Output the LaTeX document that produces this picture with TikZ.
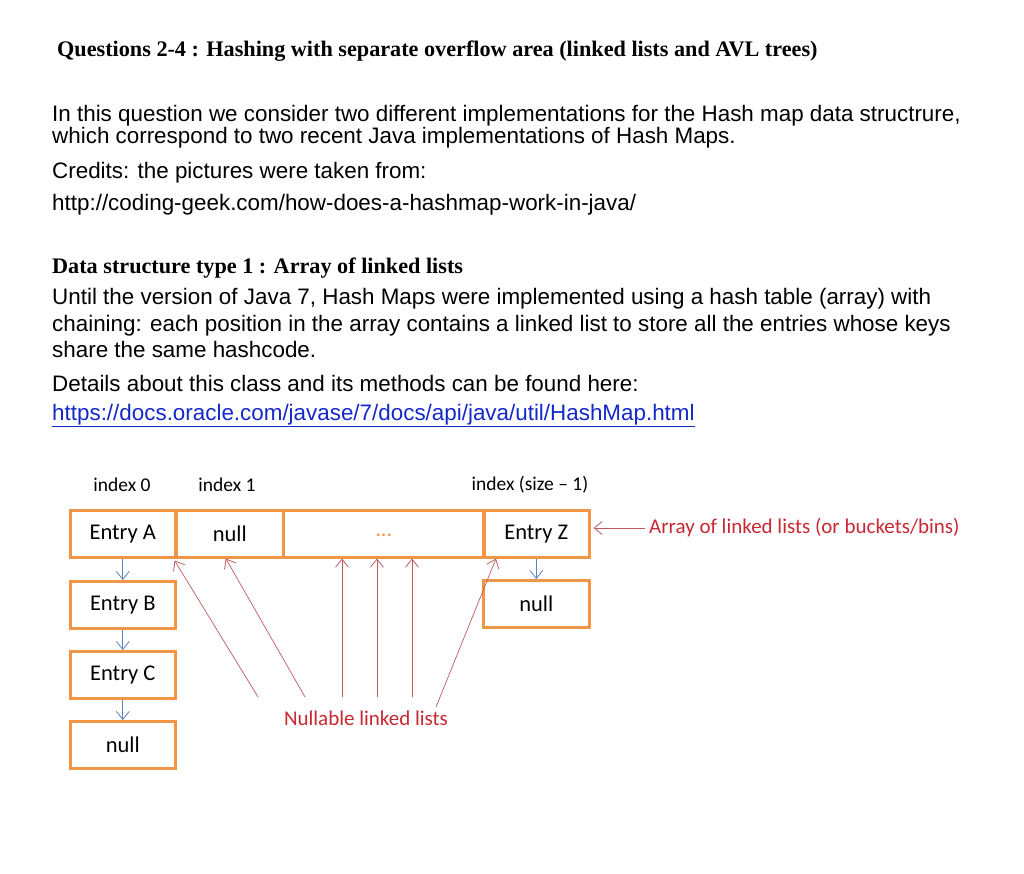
\documentclass[tikz,border=0pt]{standalone}
\usepackage{fontspec}
\setmainfont{Liberation Sans}
\newfontfamily\serifbf{Liberation Serif}
\newfontfamily\calib{Carlito}
\usetikzlibrary{arrows.meta}
\definecolor{boxorange}{RGB}{240,150,70}
\definecolor{linkred}{RGB}{200,40,50}
\definecolor{arrowblue}{RGB}{90,130,190}
\definecolor{pointred}{RGB}{190,90,90}
\definecolor{urlblue}{RGB}{20,40,200}
\begin{document}
\begin{tikzpicture}[
    x=1pt, y=-1pt,
    >={Straight Barb[length=8pt,width=13pt,line width=0.8pt]},
    txt/.style={anchor=base west, inner sep=0pt, font=\fontsize{22.4}{24}\selectfont},
    cell/.style={draw=boxorange, line width=2.6pt, anchor=north west, inner sep=0pt,
      font=\calib\fontsize{22.5}{24}\selectfont},
    lbl/.style={inner sep=0pt, font=\calib\fontsize{19.5}{21}\selectfont},
    down/.style={->, arrowblue, line width=0.7pt},
    up/.style={->, pointred, line width=0.7pt}
  ]
    \useasboundingbox (0,0) rectangle (1024,874);
    % text above the picture
    \node[txt, font=\serifbf\bfseries\fontsize{22.2}{24}\selectfont] (title) at (57,57)
      {Questions 2-4 : Hashing with separate overflow area (linked lists and AVL trees)};
    \node[txt] (l1) at (52,122) {In this question we consider two different implementations for the Hash map data structrure,};
    \node[txt] (l2) at (52,144) {which correspond to two recent Java implementations of Hash Maps.};
    \node[txt] (l3) at (52,179) {Credits: the pictures were taken from:};
    \node[txt] (l4) at (52,211) {http://coding-geek.com/how-does-a-hashmap-work-in-java/};
    \node[txt, font=\serifbf\bfseries\fontsize{22.2}{24}\selectfont] (dtype) at (52,274)
      {Data structure type 1 : Array of linked lists};
    \node[txt] (l5) at (52,305) {Until the version of Java 7, Hash Maps were implemented using a hash table (array) with};
    \node[txt] (l6) at (52,331) {chaining: each position in the array contains a linked list to store all the entries whose keys};
    \node[txt] (l7) at (52,357) {share the same hashcode.};
    \node[txt] (l8) at (52,391) {Details about this class and its methods can be found here:};
    \node[txt, text=urlblue] (url) at (52,420) {https://docs.oracle.com/javase/7/docs/api/java/util/HashMap.html};
    \draw[urlblue, thin] ([yshift=-1pt]url.south west) -- ([yshift=-1pt]url.south east);

    % index labels
    \node[lbl] (i0) at (122,485) {index 0};
    \node[lbl] (i1) at (227,485) {index 1};
    \node[lbl] (in) at (530,485) {index (size – 1)};

    % array row
    \node[cell, minimum width=105pt, minimum height=47pt] (ea) at (69,509) {Entry A};
    \node[cell, minimum width=107pt, minimum height=47pt] (n1) at (175,509) {null};
    \node[cell, minimum width=201pt, minimum height=47pt] (dots) at (282,509) {\textcolor{boxorange}{\raisebox{-5pt}{...}}};
    \node[cell, minimum width=106pt, minimum height=47pt] (ez) at (482,509) {Entry Z};

    % chains
    \node[cell, minimum width=105pt, minimum height=47pt] (eb) at (69,580) {Entry B};
    \node[cell, minimum width=105pt, minimum height=47pt] (ec) at (69,650) {Entry C};
    \node[cell, minimum width=105pt, minimum height=47pt] (na) at (69,720) {null};
    \node[cell, minimum width=106pt, minimum height=47pt] (nz) at (482,579) {null};

    \draw[down] (ea) -- (eb);
    \draw[down] (eb) -- (ec);
    \draw[down] (ec) -- (na);
    \draw[down] (ez) -- (nz);

    % pointers to buckets
    \node[lbl, text=linkred, font=\calib\fontsize{21}{23}\selectfont] (nl) at (366,718) {Nullable linked lists};
    \coordinate (p1) at (258,697);
    \coordinate (p2) at (305,697);
    \coordinate (p3) at (342,697);
    \coordinate (p4) at (377,697);
    \coordinate (p5) at (412,697);
    \coordinate (p6) at (436,707);
    \draw[up] (p1) -- ([shift={(-2pt,-2pt)}]ea.south east);
    \draw[up] (p2) -- ([xshift=-4pt]n1.south);
    \draw[up] (p3) -- (p3 |- dots.south);
    \draw[up] (p4) -- (p4 |- dots.south);
    \draw[up] (p5) -- (p5 |- dots.south);
    \draw[up] (p6) -- ([xshift=14pt]ez.south west);

    \node[lbl, text=linkred, anchor=west, font=\calib\fontsize{21}{23}\selectfont] (arr) at (649,528)
      {Array of linked lists (or buckets/bins)};
    \draw[up] (arr.west) ++(-4pt,0) -- ([xshift=3pt]ez.east |- arr.west);
\end{tikzpicture}
\end{document}
